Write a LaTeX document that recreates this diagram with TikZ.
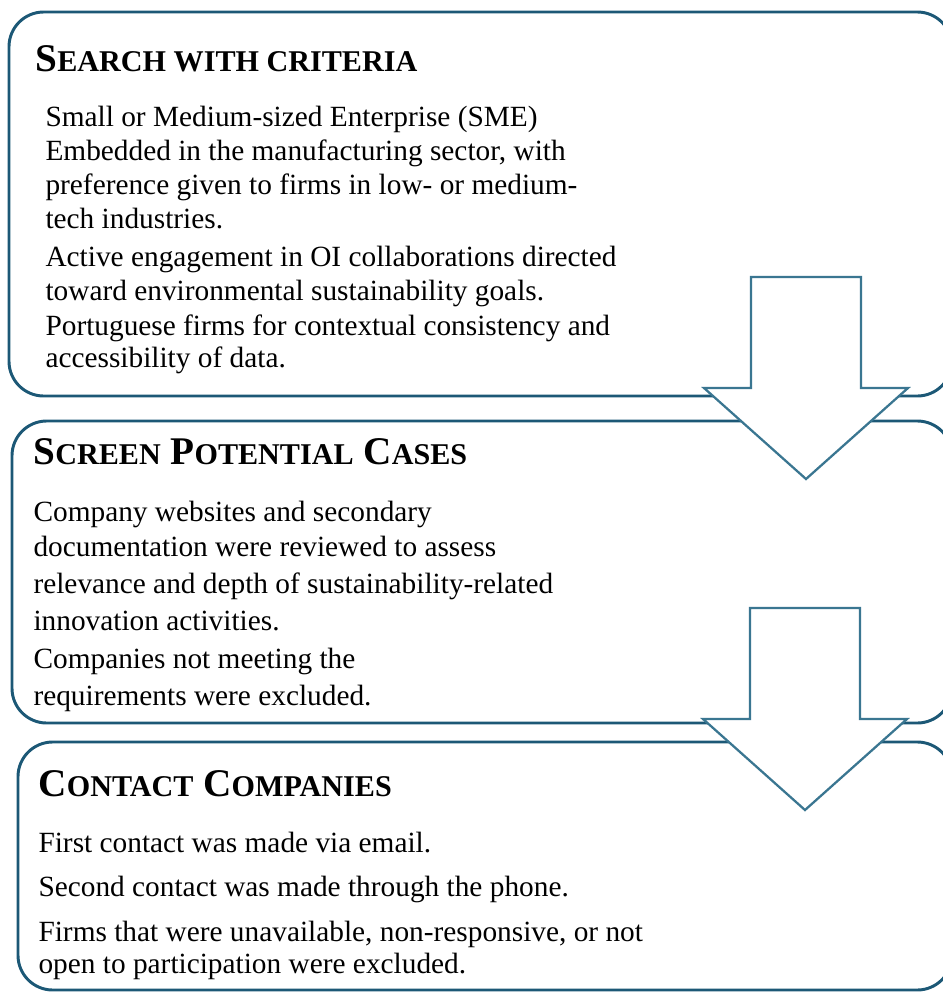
\documentclass[tikz,border=0pt]{standalone}
\usepackage{fontspec}
\setmainfont{Liberation Serif}
\usepackage{tikz}
\usepackage[dvipsnames]{xcolor}

\definecolor{boxblue}{RGB}{28,88,118}
\definecolor{arrowblue}{RGB}{58,118,145}

% capitals at full size, the rest as small capitals
\newcommand{\capsize}{\fontsize{14.7}{17}\selectfont}
\newcommand{\smcsize}{\fontsize{11.3}{17}\selectfont}

\tikzset{
  stagebox/.style = {draw=boxblue, line width=1.1pt, rounded corners=13pt, fill=white},
  arrowline/.style = {draw=arrowblue, line width=0.85pt, fill=white, line join=miter},
  titletext/.style = {anchor=base west, inner sep=0pt, font=\capsize\bfseries},
  bodytext/.style = {anchor=base west, inner sep=0pt, font=\fontsize{11}{13}\selectfont},
  downarrow/.pic = {
    \draw[arrowline] (-55,0) -- (55,0) -- (55,111) -- (102,111) -- (0,202)
      -- (-102,111) -- (-55,111) -- cycle;
  }
}

\begin{document}
\begin{tikzpicture}[x=0.375pt, y=-0.375pt]

\useasboundingbox (0,0) rectangle (943,992);
\clip (0,0) rectangle (943,992);

% the three stages
\draw[stagebox] (9,12) rectangle (952,396);
\draw[stagebox] (12,421) rectangle (952,723);
\draw[stagebox] (18,742) rectangle (952,990);

% block arrows between the stages
\pic (arr1) at (806,277) {downarrow};
\pic (arr2) at (805,608) {downarrow};

% stage 1
\node[titletext] (t1) at (35,71) {S{\smcsize EARCH WITH CRITERIA}};
\foreach \y/\txt [count=\i] in {
  126/{Small or Medium-sized Enterprise (SME)},
  160/{Embedded in the manufacturing sector, with},
  194/{preference given to firms in low- or medium-},
  228/{tech industries.},
  266/{Active engagement in OI collaborations directed},
  300/{toward environmental sustainability goals.},
  335/{Portuguese firms for contextual consistency and},
  367/{accessibility of data.}}
  \node[bodytext] (a-\i) at (45,\y) {\txt};

% stage 2
\node[titletext] (t2) at (33,464) {S{\smcsize CREEN} P{\smcsize OTENTIAL} C{\smcsize ASES}};
\foreach \y/\txt [count=\i] in {
  521/{Company websites and secondary},
  556/{documentation were reviewed to assess},
  593/{relevance and depth of sustainability-related},
  630/{innovation activities.},
  668/{Companies not meeting the},
  705/{requirements were excluded.}}
  \node[bodytext] (b-\i) at (33,\y) {\txt};

% stage 3
\node[titletext] (t3) at (38,796) {C{\smcsize ONTACT} C{\smcsize OMPANIES}};
\foreach \y/\txt [count=\i] in {
  852/{First contact was made via email.},
  896/{Second contact was made through the phone.},
  941/{Firms that were unavailable, non-responsive, or not},
  973/{open to participation were excluded.}}
  \node[bodytext] (c-\i) at (38,\y) {\txt};

\end{tikzpicture}
\end{document}
